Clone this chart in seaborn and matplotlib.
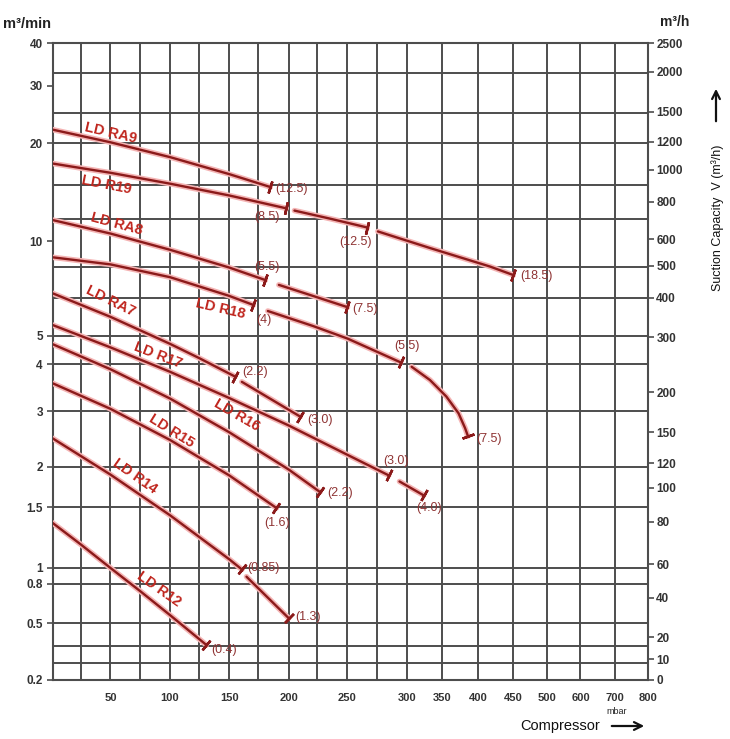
import numpy as np
import pandas as pd
import matplotlib
matplotlib.use("Agg")
import matplotlib.pyplot as plt
import matplotlib.patheffects as pe
import seaborn as sns

# ---- axis definitions of the printed chart (tick value -> height on the sheet) ----
mbar_knots = [0, 25, 50, 75, 100, 125, 150, 175, 200, 225, 250, 275, 300,
              350, 400, 450, 500, 600, 700, 800]
mbar_pos = [0, 28.2, 58, 87.7, 117.5, 146.7, 176.7, 205.5, 236.2, 265, 295,
            324.2, 354.2, 389.5, 425.5, 460.8, 494.5, 528, 562.2, 595.5]
mbar_labels = [50, 100, 150, 200, 250, 300, 350, 400, 450, 500, 600, 700, 800]

flow_ticks = [0.2, 0.5, 0.8, 1, 1.5, 2, 3, 4, 5, 10, 20, 30, 40]
flow_pos = [0, 56.5, 95.5, 111.5, 172.5, 212.8, 268.5, 315.2, 343.5, 438.5,
            536.5, 593.5, 636.5]
flow_grid = [32.8, 24.7, 20, 14.9, 11.7, 8.3, 6.6, 5, 4, 3, 2, 1.5, 1, 0.8,
             0.5, 0.344, 0.262]

rate_ticks = [0, 10, 20, 40, 60, 80, 100, 120, 150, 200, 300, 400, 500, 600,
              800, 1000, 1200, 1500, 2000, 2500]
rate_pos = [0, 20.5, 42.2, 81.8, 115.2, 157.8, 192, 216.2, 247.2, 287.2, 342.2,
            381.8, 413.5, 440.2, 477.8, 509.5, 537.8, 567.8, 607.8, 636.5]

# ---- pump curves: suction capacity (m3/min) vs pressure (mbar), per motor size ----
models = ["LD RA9", "LD R19", "LD RA8", "LD R18", "LD RA7",
          "LD R17", "LD R16", "LD R15", "LD R14", "LD R12"]

ra9_mbar = [[0, 50, 100, 150, 185]]
ra9_flow = [[22.0, 20.1, 18.1, 16.05, 14.65]]
ra9_kw = ["12.5"]

r19_mbar = [[0, 50, 100, 150, 198], [205, 236, 267], [276, 333, 417, 450]]
r19_flow = [[17.3, 16.2, 15.0, 13.8, 12.6], [12.4, 11.7, 11.0], [10.7, 9.5, 8.3, 7.8]]
r19_kw = ["8.5", "12.5", "18.5"]

ra8_mbar = [[0, 50, 100, 150, 181], [192, 221, 250]]
ra8_flow = [[11.6, 10.54, 9.38, 8.24, 7.52], [7.26, 6.70, 6.17]]
ra8_kw = ["5.5", "7.5"]

r18_mbar = [[0, 50, 100, 150, 171], [183, 221, 250, 275, 295],
            [307, 333, 356, 373, 382, 386]]
r18_flow = [[8.88, 8.43, 7.68, 6.70, 6.27], [6.0, 5.38, 4.9, 4.42, 4.06],
            [3.94, 3.63, 3.28, 2.95, 2.65, 2.50]]
r18_kw = ["4", "5.5", "7.5"]

ra7_mbar = [[0, 50, 100, 125, 155], [161, 210]]
ra7_flow = [[6.83, 5.75, 4.70, 4.20, 3.71], [3.59, 2.88]]
ra7_kw = ["2.2", "3.0"]

r17_mbar = [[0, 50, 100, 150, 200, 250, 285], [294, 324]]
r17_flow = [[5.42, 4.57, 3.82, 3.25, 2.70, 2.18, 1.88], [1.80, 1.63]]
r17_kw = ["3.0", "4.0"]

r16_mbar = [[0, 50, 100, 150, 200, 227]]
r16_flow = [[4.69, 3.88, 3.24, 2.57, 1.96, 1.67]]
r16_kw = ["2.2"]

r15_mbar = [[0, 50, 100, 150, 190]]
r15_flow = [[3.56, 3.04, 2.43, 1.88, 1.49]]
r15_kw = ["1.6"]

r14_mbar = [[0, 50, 100, 150, 161], [165, 200]]
r14_flow = [[2.46, 1.89, 1.42, 1.06, 0.98], [0.886, 0.53]]
r14_kw = ["0.85", "1.3"]

r12_mbar = [[0, 25, 50, 75, 100, 131]]
r12_flow = [[1.35, 1.17, 1.0, 0.734, 0.55, 0.35]]
r12_kw = ["0.4"]

curves = list(zip(models,
                  [ra9_mbar, r19_mbar, ra8_mbar, r18_mbar, ra7_mbar, r17_mbar, r16_mbar, r15_mbar, r14_mbar, r12_mbar],
                  [ra9_flow, r19_flow, ra8_flow, r18_flow, ra7_flow, r17_flow, r16_flow, r15_flow, r14_flow, r12_flow],
                  [ra9_kw, r19_kw, ra8_kw, r18_kw, ra7_kw, r17_kw, r16_kw, r15_kw, r14_kw, r12_kw]))

# ---- label layout ----
name_pos = {"LD RA9": (50, 21.5, -13), "LD R19": (47, 14.9, -11), "LD RA8": (55, 11.3, -15),
            "LD R18": (143, 6.09, -13), "LD RA7": (50, 6.46, -26), "LD R17": (90, 4.30, -21),
            "LD R16": (157, 2.92, -30), "LD R15": (101, 2.60, -32), "LD R14": (71, 1.87, -35),
            "LD R12": (91, 0.75, -35)}
kw_offsets = {"LD RA9": [(5, -2, "left")],
              "LD R19": [(-7, -9, "right"), (-12, -14, "center"), (7, -1, "left")],
              "LD RA8": [(2, 13, "center"), (5, -2, "left")],
              "LD R18": [(10, -15, "center"), (6, 16, "center"), (8, -3, "left")],
              "LD RA7": [(7, 5, "left"), (7, -3, "left")],
              "LD R17": [(7, 14, "center"), (5, -13, "center")],
              "LD R16": [(7, -1, "left")],
              "LD R15": [(1, -15, "center")],
              "LD R14": [(5, 1, "left"), (7, 1, "left")],
              "LD R12": [(5, -5, "left")]}

line_color = "#8b1a1a"
name_color = "#c0261e"
kw_color = "#8f3434"
grid_color = "#4d4d4d"


def interp_funcs(vals, pos, log=False):
    vals = np.asarray(vals, float)
    pos = np.asarray(pos, float)
    if log:
        lv = np.log(vals)
        return (lambda v: np.interp(np.log(np.clip(v, 1e-6, None)), lv, pos),
                lambda p: np.exp(np.interp(p, pos, lv)))
    return (lambda v: np.interp(v, vals, pos), lambda p: np.interp(p, pos, vals))


sns.set_theme(style="white")
plt.rcParams["font.family"] = ["Liberation Sans", "DejaVu Sans"]

fig = plt.figure(figsize=(7.3, 7.39), dpi=100)
ax = fig.add_axes([52.5 / 730, 59.5 / 739, 595.5 / 730, 636.5 / 739])

ax.set_xscale("function", functions=interp_funcs(mbar_knots, mbar_pos))
ax.set_yscale("function", functions=interp_funcs(flow_ticks, flow_pos, log=True))
ax.set_xlim(0, 800)
ax.set_ylim(0.2, 40)

for v in mbar_knots:
    ax.axvline(v, color=grid_color, lw=1.4, zorder=1)
for v in flow_grid:
    ax.axhline(v, color=grid_color, lw=1.4, zorder=1)

rows = []
for name, xs_list, ys_list, _ in curves:
    for k, (xs, ys) in enumerate(zip(xs_list, ys_list)):
        for x, y in zip(xs, ys):
            rows.append((name, f"{name}-{k}", x, y))
df = pd.DataFrame(rows, columns=["model", "segment", "mbar", "flow"])

glow = [pe.Stroke(linewidth=4, foreground="#f4b4b4"), pe.Normal()]
sns.lineplot(data=df, x="mbar", y="flow", units="segment", estimator=None,
             sort=False, color=line_color, lw=1.7, ax=ax, legend=False,
             path_effects=glow, zorder=3)

ax.set_xlim(0, 800)
ax.set_ylim(0.2, 40)

for name, xs_list, ys_list, kws in curves:
    for (xs, ys), kw, (dx, dy, ha) in zip(zip(xs_list, ys_list), kws, kw_offsets[name]):
        p = ax.transData.transform(np.column_stack([xs[-2:], ys[-2:]]))
        ang = np.degrees(np.arctan2(p[1, 1] - p[0, 1], p[1, 0] - p[0, 0]))
        ax.plot(xs[-1], ys[-1], marker=(2, 2, ang), ms=9, mew=1.8,
                color=line_color, zorder=4)
        ax.annotate(f"({kw})", xy=(xs[-1], ys[-1]), xytext=(dx, dy),
                    textcoords="offset pixels", ha=ha, va="center",
                    fontsize=9, color=kw_color, zorder=5)
    lx, ly, rot = name_pos[name]
    ax.text(lx, ly, name, rotation=rot, rotation_mode="anchor", ha="center",
            va="center", fontsize=10.5, fontweight="bold", color=name_color,
            zorder=5)

ax.set_xticks(mbar_labels)
ax.set_xticklabels([str(v) for v in mbar_labels])
ax.set_yticks(flow_ticks)
ax.set_yticklabels(["0.2", "0.5", "0.8", "1", "1.5", "2", "3", "4", "5",
                    "10", "20", "30", "40"])
ax.set_xlabel("")
ax.set_ylabel("")
ax.grid(False)
ax.tick_params(axis="both", which="major", direction="out", length=4, width=1.2,
               color=grid_color, labelsize=8.5, labelcolor="#333333", pad=3)
ax.tick_params(axis="x", labelsize=8, pad=6)
for lab in ax.get_xticklabels() + ax.get_yticklabels():
    lab.set_fontweight("bold")
for s in ax.spines.values():
    s.set_color(grid_color)
    s.set_linewidth(1.5)

ax2 = ax.twinx()
ax2.set_yscale("function", functions=interp_funcs(rate_ticks, rate_pos))
ax2.set_ylim(0, 2500)
ax2.set_yticks(rate_ticks)
ax2.set_yticklabels([str(v) for v in rate_ticks])
ax2.grid(False)
ax2.tick_params(axis="y", direction="out", length=4, width=1.2, color=grid_color,
                labelsize=8.5, labelcolor="#333333", pad=2)
for lab in ax2.get_yticklabels():
    lab.set_fontweight("bold")
for s in ax2.spines.values():
    s.set_visible(False)

fig.text(3 / 730, 1 - 24 / 739, "m\u00b3/min", ha="left", va="center",
         fontsize=10.5, fontweight="bold", color="#222222")
fig.text(675 / 730, 1 - 22 / 739, "m\u00b3/h", ha="center", va="center",
         fontsize=10, fontweight="bold", color="#222222")
fig.text(617 / 730, 1 - 711 / 739, "mbar", ha="center", va="center",
         fontsize=6.5, color="#222222")
fig.text(560 / 730, 1 - 726 / 739, "Compressor", ha="center", va="center",
         fontsize=10.5, color="#111111")
fig.text(718 / 730, 1 - 218 / 739, "Suction Capacity  V (m\u00b3/h)", rotation=90,
         ha="center", va="center", fontsize=9, color="#111111")
fig.add_artist(plt.Annotation("", xy=(647 / 730, 1 - 726 / 739),
                              xytext=(609 / 730, 1 - 726 / 739),
                              xycoords="figure fraction", textcoords="figure fraction",
                              arrowprops=dict(arrowstyle="->", lw=1.6, color="#111111",
                                              mutation_scale=14)))
fig.add_artist(plt.Annotation("", xy=(716 / 730, 1 - 86 / 739),
                              xytext=(716 / 730, 1 - 124 / 739),
                              xycoords="figure fraction", textcoords="figure fraction",
                              arrowprops=dict(arrowstyle="->", lw=1.6, color="#111111",
                                              mutation_scale=14)))

fig.savefig("out.png", dpi=100)
